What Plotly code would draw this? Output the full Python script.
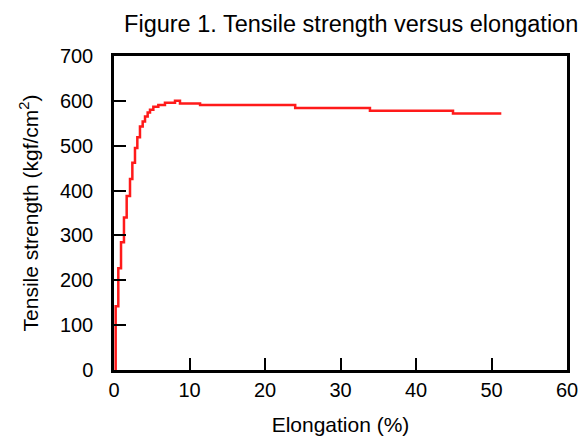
import plotly.graph_objects as go

elongation = [0.2, 0.22, 0.57, 0.93, 1.32, 1.68, 2.12, 2.43, 2.78, 3.09, 3.44, 3.80, 4.11,
              4.46, 4.77, 5.21, 5.87, 6.75, 8.08, 8.74, 11.4, 24.0, 33.9, 44.9, 51.3]
strength = [0, 142, 227, 285, 340, 388, 426, 462, 495, 519, 543, 554, 565,
            574, 580, 587, 591, 596, 600, 594, 591, 584, 578, 572, 572]

x_ticks = [0, 10, 20, 30, 40, 50, 60]
y_ticks = [0, 100, 200, 300, 400, 500, 600, 700]

font = "Liberation Sans, Arial, sans-serif"

fig = go.Figure()
fig.add_trace(go.Scatter(x=elongation, y=strength, mode="lines", line_shape="hv",
                         line=dict(color="#ff1a1a", width=2.5), showlegend=False))

fig.update_layout(
    width=580, height=436,
    margin=dict(l=114, r=13, t=56, b=66),
    paper_bgcolor="white", plot_bgcolor="white",
    font=dict(family=font, size=20, color="black"),
    title=dict(text="Figure 1. Tensile strength versus elongation", x=0.997, xanchor="right",
               y=0.946, yanchor="middle", font=dict(size=23.5, family=font)),
)
fig.update_xaxes(range=[0, 60], tickvals=x_ticks, showgrid=False, zeroline=False,
                 showline=True, linecolor="black", linewidth=2.5, mirror=True,
                 ticks="inside", ticklen=12, tickwidth=1.5, tickcolor="black",
                 ticklabelstandoff=0, automargin=False,
                 title=dict(text="Elongation (%)", standoff=20, font=dict(size=21)))
fig.update_yaxes(range=[0, 700], tickvals=y_ticks, showgrid=False, zeroline=False,
                 showline=True, linecolor="black", linewidth=2.5, mirror=True,
                 ticks="inside", ticklen=12, tickwidth=1.5, tickcolor="black",
                 ticklabelstandoff=14, automargin=False,
                 title=dict(text="Tensile strength (kgf/cm<sup>2</sup>)", standoff=16, font=dict(size=21)))

fig.write_html("out.html")
